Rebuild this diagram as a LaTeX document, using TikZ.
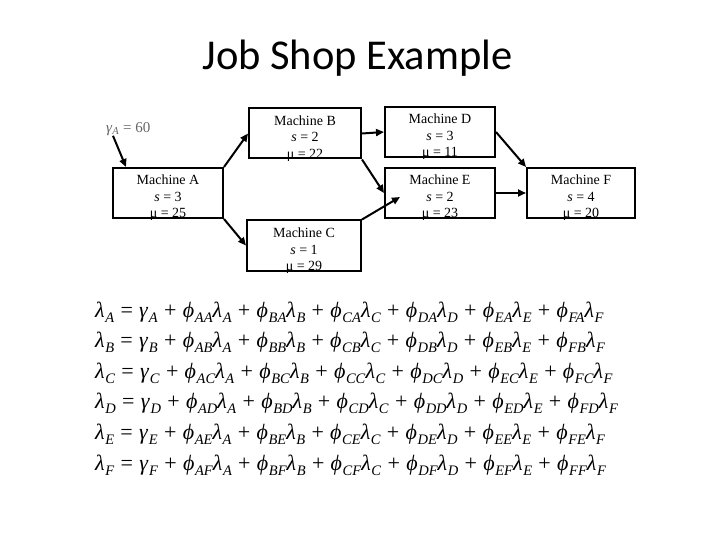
\documentclass[tikz,border=0pt]{standalone}
\usepackage{fontspec}
\setmainfont{Liberation Serif}
\newfontfamily\titlefont{Carlito}
\usetikzlibrary{arrows.meta}

\newcommand\subfont{\fontsize{14.5}{17}\selectfont}
\newcommand\lowsub[1]{\kern0.6pt\raisebox{-5pt}{\subfont\textit{#1}}}
\newcommand\lamr[1]{\textit{λ}\lowsub{#1}}
\newcommand\gamr[1]{\textit{γ}\lowsub{#1}}
\newcommand\phir[1]{\textit{ϕ}\lowsub{#1}}
\newcommand\eqnfont{\fontsize{22}{26}\selectfont\spaceskip=6.3pt plus 1pt\relax}

\begin{document}
\begin{tikzpicture}[
    x=1pt, y=-1pt,
    machine/.style={rectangle, draw, line width=2pt, minimum width=110pt, inner xsep=0pt, inner ysep=0pt, text height=50pt, text depth=0pt, align=center, font=\fontsize{14}{16.5}\selectfont},
    flow/.style={-{Triangle[length=8pt,width=7pt]}, line width=2pt},
    eqn/.style={anchor=base west, inner sep=0pt, font=\eqnfont}
  ]
    \useasboundingbox (0,0) rectangle (720,540);
    \fill[white] (0,0) rectangle (720,540);

    % Title
    \node[anchor=base, font=\titlefont\fontsize{42.5}{48}\selectfont] (title) at (357.5,70) {Job Shop Example};

    % External arrivals
    \node[anchor=west, inner sep=0pt, text=black!60, font=\fontsize{15}{17}\selectfont] (gammaA) at (106,129) {\textit{γ}\textsubscript{\textit{A}} = 60};

    % First stage
    \node[machine] (A) at (168,193) {Machine A\\\textit{s} = 3\\μ = 25};

    % Second stage
    \node[machine, minimum width=112pt] (B) at (305,133.5) {Machine B\\\textit{s} = 2\\μ = 22};
    \node[machine, minimum width=114pt] (C) at (304,245.5) {Machine C\\\textit{s} = 1\\μ = 29};

    % Third stage
    \node[machine] (D) at (440,132) {Machine D\\\textit{s} = 3\\μ = 11};
    \node[machine] (E) at (440,193) {Machine E\\\textit{s} = 2\\μ = 23};

    % Last stage
    \node[machine, minimum width=108pt] (F) at (581,193) {Machine F\\\textit{s} = 4\\μ = 20};

    % Arrows - job routing
    \draw[flow] ([xshift=7pt]gammaA.south west) -- ([xshift=14pt]A.north west);
    \draw[flow] (A.north east) -- (B.west);
    \draw[flow] (A.south east) -- (C.west);
    \draw[flow] (B.east) -- (D.west);
    \draw[flow] (B.south east) -- (E.west);
    \draw[flow] (C.north east) -- ([shift={(16pt,-4pt)}]E.west);
    \draw[flow] (D.east) -- (F.north west);
    \draw[flow] (E.east) -- (F.west);

    % Traffic equations
    \node[eqn] (eqA) at (95,317) {\lamr{A} = \gamr{A} + \phir{AA}\lamr{A} + \phir{BA}\lamr{B} + \phir{CA}\lamr{C} + \phir{DA}\lamr{D} + \phir{EA}\lamr{E} + \phir{FA}\lamr{F}};
    \node[eqn] (eqB) at (95,347.6) {\lamr{B} = \gamr{B} + \phir{AB}\lamr{A} + \phir{BB}\lamr{B} + \phir{CB}\lamr{C} + \phir{DB}\lamr{D} + \phir{EB}\lamr{E} + \phir{FB}\lamr{F}};
    \node[eqn] (eqC) at (95,378.2) {\lamr{C} = \gamr{C} + \phir{AC}\lamr{A} + \phir{BC}\lamr{B} + \phir{CC}\lamr{C} + \phir{DC}\lamr{D} + \phir{EC}\lamr{E} + \phir{FC}\lamr{F}};
    \node[eqn] (eqD) at (95,408.8) {\lamr{D} = \gamr{D} + \phir{AD}\lamr{A} + \phir{BD}\lamr{B} + \phir{CD}\lamr{C} + \phir{DD}\lamr{D} + \phir{ED}\lamr{E} + \phir{FD}\lamr{F}};
    \node[eqn] (eqE) at (95,439.4) {\lamr{E} = \gamr{E} + \phir{AE}\lamr{A} + \phir{BE}\lamr{B} + \phir{CE}\lamr{C} + \phir{DE}\lamr{D} + \phir{EE}\lamr{E} + \phir{FE}\lamr{F}};
    \node[eqn] (eqF) at (95,470) {\lamr{F} = \gamr{F} + \phir{AF}\lamr{A} + \phir{BF}\lamr{B} + \phir{CF}\lamr{C} + \phir{DF}\lamr{D} + \phir{EF}\lamr{E} + \phir{FF}\lamr{F}};

  \end{tikzpicture}
\end{document}
